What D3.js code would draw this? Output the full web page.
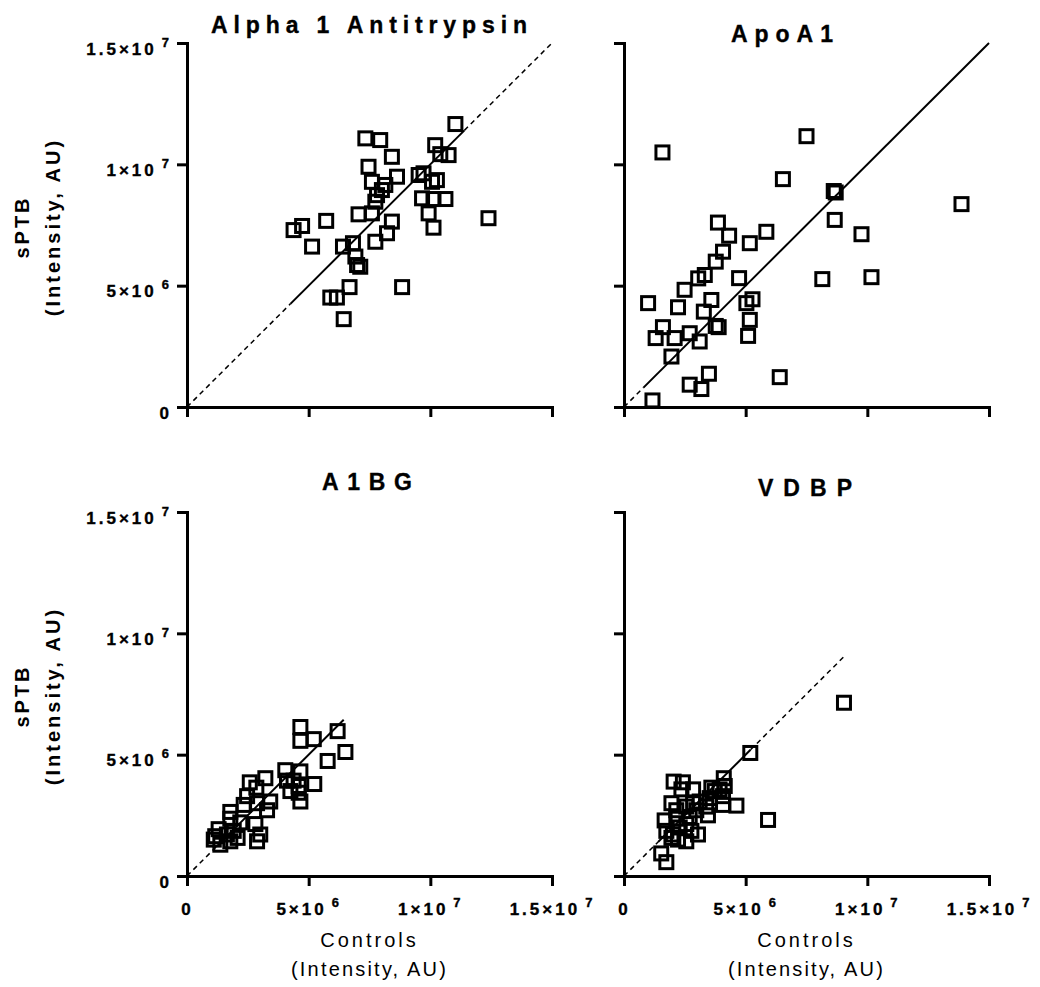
<!DOCTYPE html>
<html>
<head>
<meta charset="utf-8">
<script src="https://cdn.jsdelivr.net/npm/d3@7"></script>
<style>
  body { margin: 0; background: #fff; }
  svg text { font-family: "Liberation Sans", Arial, sans-serif; fill: #000; }
  .heavy { stroke: #000; stroke-width: 0.35; }
</style>
</head>
<body>
<svg width="1040" height="987"></svg>
<script>
// values, in millions (x 1e6)
const unit = 1e6;
const titles = ['Alpha 1 Antitrypsin', 'ApoA1', 'A1BG', 'VDBP'];
const tickValues = [0, 5e6, 1e7, 1.5e7];

const a1atControls = [4.38, 4.73, 5.72, 5.14, 6.41, 6.82, 6.92, 6.99, 7.12, 6.68, 5.89, 6.16, 6.44, 8.84, 7.05,
    7.74, 8.22, 8.42, 7.60, 7.74, 7.81, 8.01, 8.15, 7.46, 7.60, 7.33, 7.94, 8.42, 8.63, 9.52, 9.72, 10.07,
    10.27, 9.66, 10.13, 10.62, 9.93, 10.13, 10.20, 10.41, 10.75, 11.03, 12.39];
const a1atSptb = [7.29, 7.46, 7.67, 6.61, 6.61, 6.75, 6.20, 5.85, 5.78, 4.94, 4.51, 4.51, 3.62, 4.94, 7.94,
    6.81, 7.16, 7.64, 7.98, 8.46, 8.73, 8.94, 9.15, 9.90, 9.28, 11.07, 11.00, 10.31, 9.49, 9.56, 9.63, 9.28,
    9.35, 8.60, 8.57, 8.57, 7.98, 7.39, 10.79, 10.42, 10.38, 11.66, 7.78];

const apoControls = [1.58, 7.50, 6.53, 8.62, 8.70, 13.87, 8.66, 9.76, 8.15, 10.17, 6.40, 3.86, 4.32, 5.85,
    5.17, 4.07, 3.77, 3.32, 3.05, 2.49, 4.73, 0.99, 2.22, 3.59, 3.28, 5.03, 5.28, 5.17, 5.10, 3.77, 3.89,
    1.60, 1.30, 2.08, 2.70, 3.11, 1.95, 3.49, 2.70, 3.18, 1.17];
const apoSptb = [10.49, 11.16, 9.39, 8.90, 8.84, 8.36, 7.71, 7.12, 5.27, 5.35, 1.23, 7.60, 7.06, 7.22, 6.75,
    6.40, 5.99, 5.44, 5.30, 4.83, 5.31, 4.28, 4.11, 4.41, 3.93, 4.28, 4.44, 3.59, 2.93, 3.34, 3.29, 3.29,
    2.84, 2.84, 3.04, 2.70, 2.08, 1.37, 0.92, 0.74, 0.27];

const a1bgControls = [4.66, 4.66, 5.21, 6.19, 6.51, 5.78, 4.04, 4.66, 5.23, 4.38, 4.11, 4.59, 4.59, 4.66,
    4.25, 3.22, 2.58, 2.85, 2.47, 2.33, 3.42, 3.29, 2.88, 1.78, 1.78, 2.19, 2.81, 3.01, 2.88, 1.30, 1.10,
    1.37, 1.78, 2.08, 1.16, 1.92, 1.64];
const a1bgSptb = [6.14, 5.57, 5.64, 5.97, 5.11, 4.74, 4.36, 4.31, 3.79, 3.93, 3.93, 3.71, 3.43, 3.07, 3.50,
    4.03, 3.86, 3.64, 3.29, 2.93, 3.07, 2.71, 3.00, 2.64, 2.36, 2.21, 2.14, 1.71, 1.43, 1.93, 1.50, 1.29,
    1.43, 1.57, 1.64, 1.86, 1.71];

const vdbpControls = [9.04, 5.19, 5.92, 4.62, 4.10, 4.14, 3.93, 4.07, 3.73, 4.07, 3.52, 3.38, 3.45, 3.11,
    2.84, 2.42, 2.04, 2.36, 1.95, 2.15, 2.56, 2.84, 2.97, 2.70, 1.67, 1.74, 2.01, 2.29, 2.56, 2.77, 3.04,
    2.56, 2.22, 1.95, 1.53, 1.74, 2.15, 3.59];
const vdbpSptb = [7.14, 5.07, 2.31, 2.90, 4.03, 3.71, 3.57, 3.29, 3.50, 2.93, 3.21, 2.86, 2.50, 3.07, 3.57,
    3.86, 3.89, 3.57, 3.00, 2.71, 2.86, 3.00, 2.71, 2.43, 2.29, 1.86, 1.71, 2.00, 2.14, 1.86, 1.71, 1.43,
    1.50, 1.57, 0.93, 0.57, 2.36, 3.64];

// best-fit line through origin: slope, where it stops, where it is drawn solid
const fitSlope = [1.0, 1.0, 1.0, 1.0];
const fitEndX = [15.0, 15.0, 6.44, 9.07];
const fitSolidX = [[4.25, 11.4], [0.8, 15.0], [1.2, 6.44], [1.4, 5.2]];

const controls = [a1atControls, apoControls, a1bgControls, vdbpControls];
const sptb = [a1atSptb, apoSptb, a1bgSptb, vdbpSptb];

// layout
const panelSize = { width: 365, height: 364 };
const cols = [187, 624];
const rows = [43, 512];
const titlePos = [[369, 33, 316], [782, 41.5, 102], [367, 490, 90], [805, 496, 94]];

const svg = d3.select('svg');

const sciLabel = (sel) => {
    sel.each(function (d) {
        const t = d3.select(this).text(null);
        if (d === 0) { t.append('tspan').text('0'); return; }
        const e = Math.floor(Math.log10(d));
        const m = +(d / Math.pow(10, e)).toFixed(2);
        t.append('tspan').text(`${m}×10`);
        t.append('tspan').attr('dx', 5).attr('dy', -8).attr('font-size', 13).text(e);
    });
}

const drawPanel = (i) => {
    const col = i % 2, row = Math.floor(i / 2);
    const g = svg.append('g').attr('transform', `translate(${cols[col]},${rows[row]})`);

    const x = d3.scaleLinear().domain([0, 1.5e7]).range([0, panelSize.width]);
    const y = d3.scaleLinear().domain([0, 1.5e7]).range([panelSize.height, 0]);

    const xAxis = d3.axisBottom(x).tickValues(tickValues).tickSize(10).tickSizeOuter(0);
    const yAxis = d3.axisLeft(y).tickValues(tickValues).tickSize(10).tickSizeOuter(0);
    if (row === 0) xAxis.tickFormat(() => '');
    if (col === 1) yAxis.tickFormat(() => '');

    const gx = g.append('g').attr('transform', `translate(0,${panelSize.height})`).call(xAxis);
    const gy = g.append('g').call(yAxis);
    gx.attr('font-size', 17).attr('font-family', null);
    gy.attr('font-size', 17).attr('font-family', null);

    g.selectAll('.domain, .tick line').attr('stroke', '#000').attr('stroke-width', 3);
    g.selectAll('.domain').attr('stroke-linecap', 'square');
    g.selectAll('.tick text')
        .attr('class', 'heavy')
        .attr('font-size', 17)
        .attr('font-weight', 'bold')
        .attr('letter-spacing', 3)
        .attr('fill', '#000');

    if (row === 1) gx.selectAll('.tick text').attr('y', 39).attr('dy', null).call(sciLabel);
    if (col === 0) gy.selectAll('.tick text').attr('x', -15).attr('dy', 11).call(sciLabel);

    // fit line: dashed outside the solid range
    const [s0, s1] = fitSolidX[i];
    const segs = [[0, s0, true], [s0, s1, false], [s1, fitEndX[i], true]].filter(s => s[1] > s[0]);
    g.selectAll('line.fit').data(segs).join('line')
        .attr('class', 'fit')
        .attr('x1', s => x(s[0] * unit))
        .attr('y1', s => y(s[0] * unit * fitSlope[i]))
        .attr('x2', s => x(s[1] * unit))
        .attr('y2', s => y(s[1] * unit * fitSlope[i]))
        .attr('stroke', '#000')
        .attr('stroke-width', s => s[2] ? 1.5 : 2)
        .attr('stroke-dasharray', s => s[2] ? '5,4' : null);

    g.selectAll('rect.pt').data(d3.zip(controls[i], sptb[i])).join('rect')
        .attr('class', 'pt')
        .attr('x', d => x(d[0] * unit) - 6.5)
        .attr('y', d => y(d[1] * unit) - 6.5)
        .attr('width', 13)
        .attr('height', 13)
        .attr('fill', 'none')
        .attr('stroke', '#000')
        .attr('stroke-width', 3);

    const [tx, ty, tw] = titlePos[i];
    svg.append('text')
        .attr('class', 'heavy')
        .attr('x', tx).attr('y', ty)
        .attr('text-anchor', 'middle')
        .attr('font-size', 23)
        .attr('font-weight', 'bold')
        .attr('textLength', tw)
        .attr('lengthAdjust', 'spacing')
        .text(titles[i]);

    const cy = rows[row] + panelSize.height / 2 + 2;
    if (col === 0) {
        [['sPTB', 29], ['(Intensity, AU)', 60]].forEach(([txt, bx]) => {
            svg.append('text')
                .attr('transform', `translate(${bx},${cy}) rotate(-90)`)
                .attr('text-anchor', 'middle')
                .attr('font-size', 20)
                .attr('font-weight', 'bold')
                .attr('letter-spacing', 3)
                .text(txt);
        });
    }
    if (row === 1) {
        const cx = cols[col] + panelSize.width / 2;
        [['Controls', 947, 3], ['(Intensity, AU)', 976, 2.2]].forEach(([txt, by, ls]) => {
            svg.append('text')
                .attr('x', cx).attr('y', by)
                .attr('text-anchor', 'middle')
                .attr('font-size', 20)
                .attr('letter-spacing', ls)
                .text(txt);
        });
    }
}

titles.forEach((t, i) => drawPanel(i));
</script>
</body>
</html>
